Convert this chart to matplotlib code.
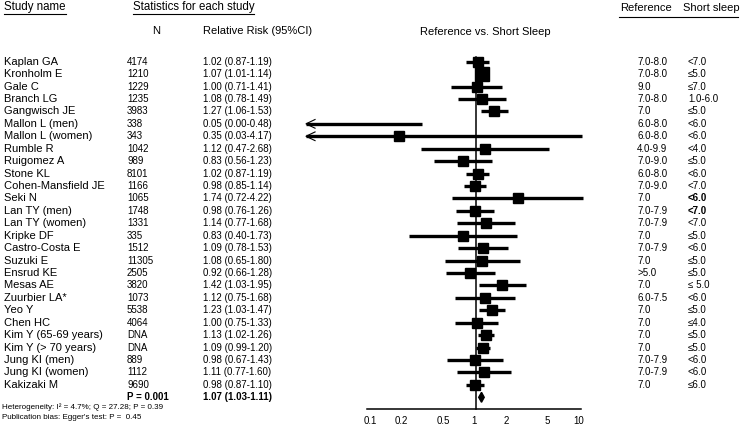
import numpy as np
import matplotlib
matplotlib.use("Agg")
from matplotlib import pyplot as plt
from matplotlib.transforms import blended_transform_factory

plt.rcParams['font.family'] = ['Liberation Sans', 'DejaVu Sans']

studies = ["Kaplan GA", "Kronholm E", "Gale C", "Branch LG", "Gangwisch JE",
           "Mallon L (men)", "Mallon L (women)", "Rumble R", "Ruigomez A",
           "Stone KL", "Cohen-Mansfield JE", "Seki N", "Lan TY (men)",
           "Lan TY (women)", "Kripke DF", "Castro-Costa E", "Suzuki E",
           "Ensrud KE", "Mesas AE", "Zuurbier LA*", "Yeo Y", "Chen HC",
           "Kim Y (65-69 years)", "Kim Y (> 70 years)", "Jung KI (men)",
           "Jung KI (women)", "Kakizaki M"]
n = ["4174", "1210", "1229", "1235", "3983", "338", "343", "1042", "989",
     "8101", "1166", "1065", "1748", "1331", "335", "1512", "11305", "2505",
     "3820", "1073", "5538", "4064", "DNA", "DNA", "889", "1112", "9690"]
rr = [1.02, 1.07, 1.00, 1.08, 1.27, 0.05, 0.35, 1.12, 0.83, 1.02, 0.98, 1.74,
      0.98, 1.14, 0.83, 1.09, 1.08, 0.92, 1.42, 1.12, 1.23, 1.00, 1.13, 1.09,
      0.98, 1.11, 0.98]
lo = [0.87, 1.01, 0.71, 0.78, 1.06, 0.00, 0.03, 0.47, 0.56, 0.87, 0.85, 0.72,
      0.76, 0.77, 0.40, 0.78, 0.65, 0.66, 1.03, 0.75, 1.03, 0.75, 1.02, 0.99,
      0.67, 0.77, 0.87]
hi = [1.19, 1.14, 1.41, 1.49, 1.53, 0.48, 4.17, 2.68, 1.23, 1.19, 1.14, 4.22,
      1.26, 1.68, 1.73, 1.53, 1.80, 1.28, 1.95, 1.68, 1.47, 1.33, 1.26, 1.20,
      1.43, 1.60, 1.10]
weight = [10, 19, 10, 10, 10, 5, 10, 9.5, 11, 11, 10, 10, 10, 10, 11, 10, 11,
          10, 10, 10, 12, 10, 10, 12, 11, 10, 11]
reference = ["7.0-8.0", "7.0-8.0", "9.0", "7.0-8.0", "7.0", "6.0-8.0", "6.0-8.0",
             "4.0-9.9", "7.0-9.0", "6.0-8.0", "7.0-9.0", "7.0", "7.0-7.9",
             "7.0-7.9", "7.0", "7.0-7.9", "7.0", ">5.0", "7.0", "6.0-7.5", "7.0",
             "7.0", "7.0", "7.0", "7.0-7.9", "7.0-7.9", "7.0"]
short_sleep = ["<7.0", "≤5.0", "≤7.0", "1.0-6.0", "≤5.0", "<6.0", "<6.0", "<4.0",
               "≤5.0", "<6.0", "<7.0", "<6.0", "<7.0", "<7.0", "≤5.0", "<6.0",
               "≤5.0", "≤5.0", "≤ 5.0", "<6.0", "≤5.0", "≤4.0", "≤5.0", "≤5.0",
               "<6.0", "<6.0", "≤6.0"]
bold_short = ["Seki N", "Lan TY (men)"]
pooled = (1.07, 1.03, 1.11)
pooled_p = "P = 0.001"
tick_labels = [0.1, 0.2, 0.5, 1, 2, 5, 10]

W, H = 740, 436
ROW0, ROW_H = 61.7, 12.43


def py(px):
    # pixel row from the top -> row units used on the y axis
    return (px - ROW0) / ROW_H


fig = plt.figure(figsize=(W / 100, H / 100), dpi=100)
ax = fig.add_axes([306 / W, 0, 341 / W, 1])
ax.set_xscale('log')
ax.set_xlim(0.1, 10)
ax.set_ylim(py(H), py(0))
ax.axis('off')

tr = blended_transform_factory(fig.transFigure, ax.transData)


def txt(xpx, y, s, size=7, **kw):
    ax.text(xpx / W, y, s, transform=tr, fontsize=size, va='center', **kw)


# headers
txt(4, py(7), "Study name", 8.3)
txt(133, py(7), "Statistics for each study", 8.3)
txt(156, py(31), "N", 8, ha='center')
txt(203, py(31), "Relative Risk (95%CI)", 8)
txt(420, py(32), "Reference vs. Short Sleep", 8)
txt(620, py(8), "Reference", 8)
txt(683, py(8), "Short sleep", 8)
for x0, x1, ypx in [(4, 66, 14), (133, 254, 14), (619, 738, 17.5)]:
    ax.plot([x0 / W, x1 / W], [py(ypx)] * 2, color='k', lw=0.8,
            transform=tr, clip_on=False)

# study rows
for i, name in enumerate(studies):
    txt(4, i, name, 8)
    txt(127, i, n[i])
    txt(203, i, f"{rr[i]:.2f} ({lo[i]:.2f}-{hi[i]:.2f})")
    txt(637, i, reference[i])
    txt(688, i, short_sleep[i],
        fontweight='bold' if name in bold_short else 'normal')

    left = max(lo[i], 0.1)
    ax.plot([left, hi[i]], [i, i], color='k', lw=2.4, solid_capstyle='butt')
    ax.plot(rr[i], i, marker='s', color='k', ms=7.2 * np.sqrt(weight[i] / 10))
    if lo[i] < 0.1:
        ax.plot([0.113, 0.1, 0.113], [i - 0.35, i, i + 0.35], color='k',
                lw=0.8, clip_on=False)

# pooled estimate
k = len(studies)
txt(127, k, pooled_p, fontweight='bold')
txt(203, k, f"{pooled[0]:.2f} ({pooled[1]:.2f}-{pooled[2]:.2f})",
    fontweight='bold')
ax.fill([pooled[1], pooled[0], pooled[2], pooled[0]],
        [k, k - 0.4, k, k + 0.4], color='k')

# reference line and baseline
ax.plot([0.99, 0.99], [py(57), py(409)], color='k', lw=1.1)
# the source prints its axis labels on a compressed log scale
tick_pos = 0.973 * np.array(tick_labels, dtype=float) ** 0.61
ax.plot([tick_pos[0] * 0.95, tick_pos[-1] * 1.03], [py(409)] * 2,
        color='k', lw=1.1)
for p, lab in zip(tick_pos, tick_labels):
    ax.text(p, py(420.5), f"{lab:g}", fontsize=7, ha='center', va='center')

txt(2, py(407.5), "Heterogeneity: I² = 4.7%; Q = 27.28; P = 0.39", 5.8)
txt(2, py(417.5), "Publication bias: Egger's test: P =  0.45", 5.8)

fig.savefig("out.png", dpi=100)
